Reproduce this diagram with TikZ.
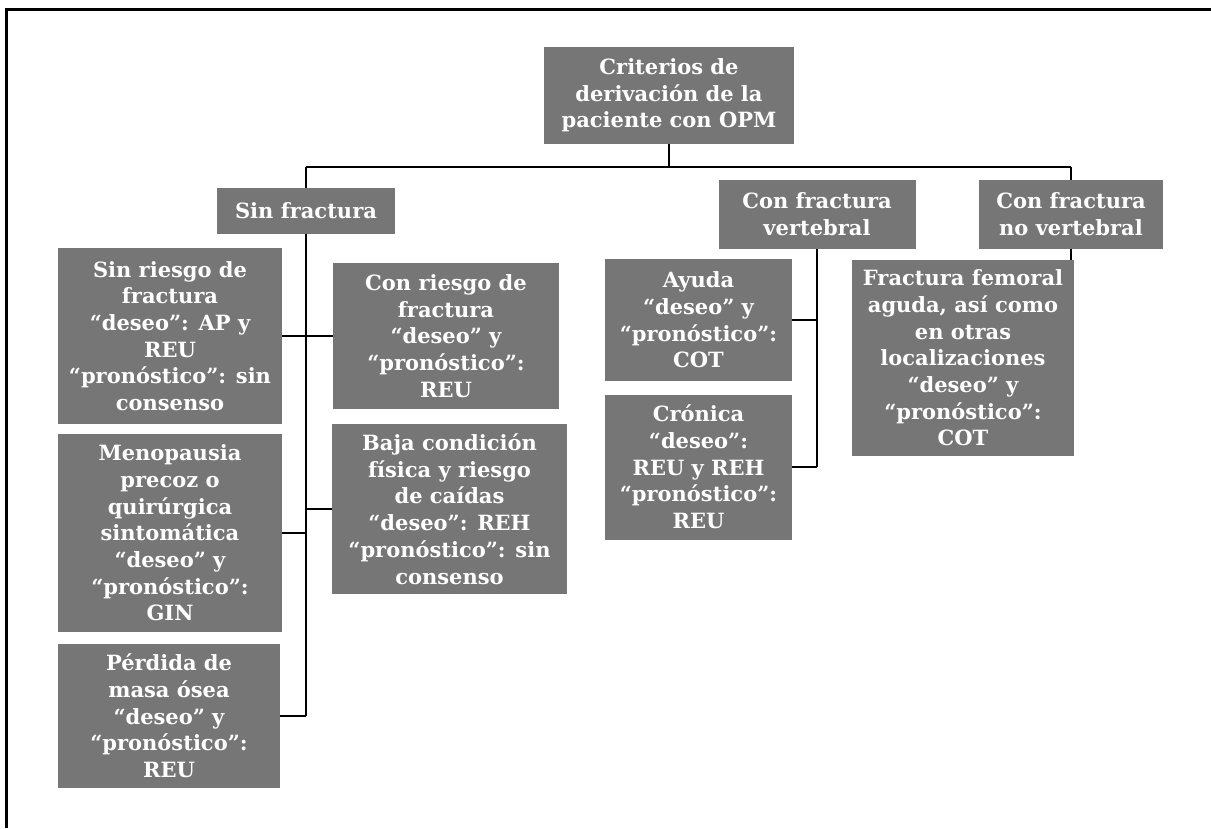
\documentclass[tikz,border=0pt]{standalone}
\usepackage{fontspec}
\setmainfont{DejaVu Serif}
\usetikzlibrary{backgrounds}
\definecolor{boxgray}{RGB}{118,118,118}
\tikzset{
  gbox/.style={fill=boxgray, text=white, align=center, inner sep=0pt,
    font=\fontsize{21}{26.7}\selectfont\bfseries},
  conn/.style={draw=black, line width=2.5pt},
  frame/.style={draw=black, line width=3.2pt}
}
\begin{document}
\begin{tikzpicture}[x=1pt,y=-1pt]
\useasboundingbox (0,0) rectangle (1211,828);
% frame (left and top edges visible)
\draw[frame] (6.5,828) -- (6.5,9.5) -- (1211,9.5);
% boxes
\node[gbox, minimum width=250pt, minimum height=97pt] (root) at (669,95.5)
  {Criterios de\\derivación de la\\paciente con OPM};
\node[gbox, minimum width=178pt, minimum height=46pt] (sinf) at (306,211)
  {Sin fractura};
\node[gbox, minimum width=197pt, minimum height=69pt] (vert) at (817,214.5)
  {Con fractura\\vertebral};
\node[gbox, minimum width=184pt, minimum height=69pt] (novert) at (1071,214.5)
  {Con fractura\\no vertebral};
\node[gbox, minimum width=224pt, minimum height=176pt] (sinriesgo) at (170,336)
  {Sin riesgo de\\fractura\\“deseo”: AP y\\REU\\“pronóstico”: sin\\consenso};
\node[gbox, minimum width=226pt, minimum height=146pt] (conriesgo) at (446,336)
  {Con riesgo de\\fractura\\“deseo” y\\“pronóstico”:\\REU};
\node[gbox, minimum width=224pt, minimum height=198pt] (meno) at (170,533)
  {Menopausia\\precoz o\\quirúrgica\\sintomática\\“deseo” y\\“pronóstico”:\\GIN};
\node[gbox, minimum width=235pt, minimum height=170pt] (baja) at (449.5,509)
  {Baja condición\\física y riesgo\\de caídas\\“deseo”: REH\\“pronóstico”: sin\\consenso};
\node[gbox, minimum width=222pt, minimum height=144pt] (perdida) at (169,716)
  {Pérdida de\\masa ósea\\“deseo” y\\“pronóstico”:\\REU};
\node[gbox, minimum width=187pt, minimum height=122pt] (ayuda) at (698.5,320)
  {Ayuda\\“deseo” y\\“pronóstico”:\\COT};
\node[gbox, minimum width=187pt, minimum height=145pt] (cronica) at (698.5,467)
  {Crónica\\“deseo”:\\REU y REH\\“pronóstico”:\\REU};
\node[gbox, minimum width=222pt, minimum height=196pt] (femoral) at (963,358)
  {Fractura femoral\\aguda, así como\\en otras\\localizaciones\\“deseo” y\\“pronóstico”:\\COT};
% connector points
\coordinate (busM) at ([yshift=-23pt]root.south);
\coordinate (busL) at (sinf.north |- busM);
\coordinate (busR) at (novert.north |- busM);
\coordinate (sfEnd) at (sinf.south |- perdida.east);
\coordinate (vEnd) at (vert.south |- cronica.east);
\begin{scope}[on background layer]
\draw[conn] (busL) -- (busR);
\draw[conn] (root.south) -- (busM);
\draw[conn] (busL) -- (sfEnd);
\draw[conn] (busR) -- (novert.north);
\draw[conn] (novert.south) -- (novert.south |- femoral.north);
\draw[conn] (vert.south) -- (vEnd);
\draw[conn] (sinriesgo.east) -- (conriesgo.west);
\draw[conn] (meno.east) -- (meno.east -| sinf.south);
\draw[conn] (baja.west -| sinf.south) -- (baja.west);
\draw[conn] (perdida.east) -- (sfEnd);
\draw[conn] (ayuda.east) -- (ayuda.east -| vert.south);
\draw[conn] (cronica.east) -- (vEnd);
\end{scope}
\end{tikzpicture}
\end{document}
